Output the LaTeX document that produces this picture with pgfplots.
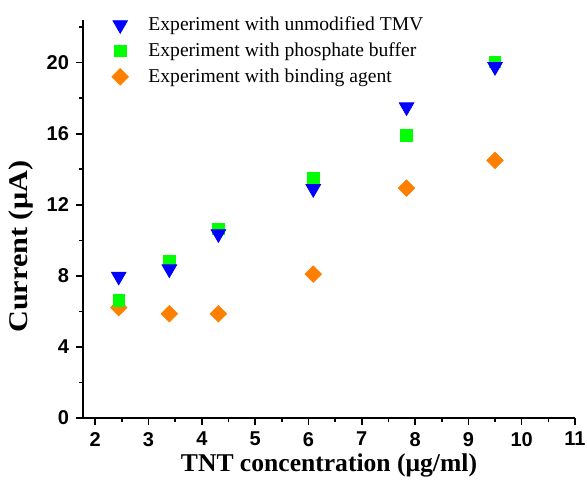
\documentclass[border=0pt]{standalone}
\usepackage{fontspec}
\setmainfont{Liberation Serif}
\setsansfont{Liberation Sans}
\usepackage{graphicx}
\usepackage{pgfplots}
\pgfplotsset{compat=1.18}
\definecolor{tblue}{RGB}{0,0,255}
\definecolor{tgreen}{RGB}{0,255,0}
\definecolor{torange}{RGB}{255,128,0}
\begin{document}
\begin{tikzpicture}
\begin{axis}[
  scale only axis, width=246pt, height=199pt,
  xmin=1.77, xmax=11, ymin=0, ymax=22.4,
  axis x line*=bottom, axis y line*=left,
  xtick={2,...,11}, ytick={0,4,...,20},
  minor xtick={2.5,3.5,...,10.5}, minor ytick={2,6,...,22},
  tick align=outside,
  major tick length=3.5pt, minor tick length=2pt,
  every tick/.style={black, line width=0.8pt},
  axis line style={black, line width=0.9pt},
  /pgf/number format/assume math mode=true,
  ticklabel style={font=\sffamily\bfseries\fontsize{10}{12}\selectfont},
  xlabel={\bfseries TNT concentration (μg/ml)},
  ylabel={\scalebox{1.12}[1]{\bfseries Current (μA)}},
  xlabel style={font=\fontsize{12.8}{14}\selectfont, yshift=3pt},
  ylabel style={font=\fontsize{13.5}{16}\selectfont, at={(ticklabel cs:0.43)}},
  legend style={draw=none, fill=none, anchor=north west, at={(rel axis cs:0.046,1.03)},
    font=\fontsize{9.8}{12}\selectfont, row sep=0.6pt,
    /tikz/every odd column/.append style={column sep=8pt}},
  legend cell align=left,
  reverse legend,
]
\addplot[only marks, mark=square*, mark size=2.9pt, color=torange, mark options={rotate=45, fill=torange, draw=torange}]
  coordinates {(2.44,6.21) (3.39,5.87) (4.31,5.87) (6.09,8.1) (7.84,12.94) (9.5,14.5)};
\addlegendentry{Experiment with binding agent}
\addplot[only marks, mark=square*, mark size=2.9pt, color=tgreen, mark options={fill=tgreen, draw=tgreen}]
  coordinates {(2.44,6.63) (3.39,8.85) (4.31,10.64) (6.09,13.5) (7.84,15.9) (9.5,20.05)};
\addlegendentry{Experiment with phosphate buffer}
\addplot[only marks, mark=triangle*, mark size=4.2pt, color=tblue, mark options={rotate=180, fill=tblue, draw=tblue}]
  coordinates {(2.44,7.97) (3.39,8.38) (4.31,10.36) (6.09,12.9) (7.84,17.5) (9.5,19.77)};
\addlegendentry{Experiment with unmodified TMV}
\end{axis}
\pgfresetboundingbox
\useasboundingbox ([xshift=-41.5pt,yshift=-31.5pt]current axis.south west) rectangle ([xshift=6pt,yshift=10pt]current axis.north east);
\end{tikzpicture}
\end{document}
